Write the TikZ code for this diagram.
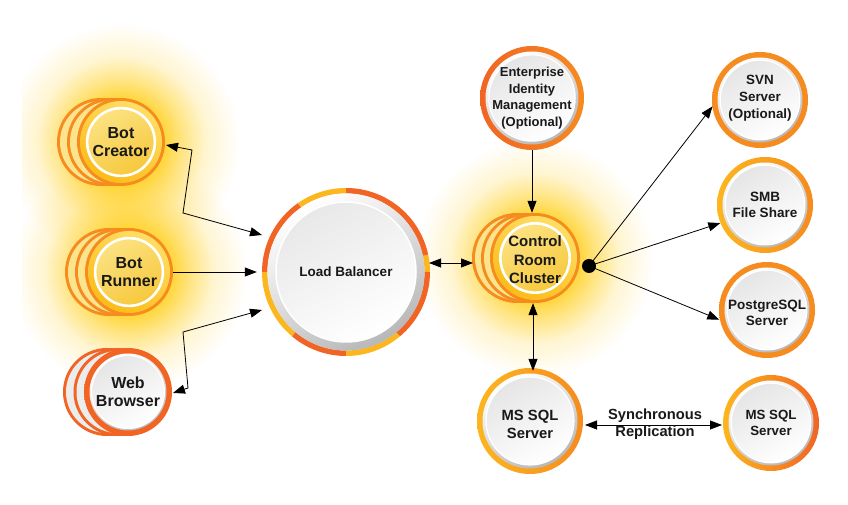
\documentclass[tikz,border=0pt]{standalone}
\usepackage{fontspec}
\setmainfont{Liberation Sans}
\usetikzlibrary{arrows.meta,fadings,calc}
\definecolor{ringor}{RGB}{246,139,31}
\definecolor{ringred}{RGB}{241,100,36}
\definecolor{ringyel}{RGB}{252,182,30}
\definecolor{glowyel}{RGB}{255,208,30}
\definecolor{fillyelA}{RGB}{255,222,100}
\definecolor{fillyelB}{RGB}{251,188,24}
\definecolor{innyelA}{RGB}{252,226,130}
\definecolor{innyelB}{RGB}{246,200,60}
\definecolor{paleyel}{RGB}{252,228,140}
\definecolor{palegray}{RGB}{236,236,236}
\pgfdeclareradialshading{glowshade}{\pgfpointorigin}{color(0bp)=(pgftransparent!0); color(9bp)=(pgftransparent!12); color(13bp)=(pgftransparent!45); color(18bp)=(pgftransparent!80); color(25bp)=(pgftransparent!100); color(50bp)=(pgftransparent!100)}
\pgfdeclarefading{glowfade}{\pgfuseshading{glowshade}}
\newcommand{\glowat}[3]{\fill[glowyel, path fading=glowfade] (#1,#2) circle[radius=#3pt];}
\newcommand{\backdisc}[5]{%
  \fill[#4] (#1,#2) circle[radius=#3pt];
  \fill[#5] (#1,#2) circle[radius=#3pt-3pt];}
\newcommand{\yfront}[3]{%
  \fill[ringor] (#1,#2) circle[radius=#3pt];
  \shade[top color=fillyelA, bottom color=fillyelB, shading angle=-30] (#1,#2) circle[radius=#3pt-3pt];
  \shade[top color=innyelA, bottom color=innyelB, shading angle=30] (#1,#2) circle[radius=0.77*#3pt];
  \draw[white, line width=2.6pt] (#1,#2) circle[radius=0.77*#3pt];}
\newcommand{\wfront}[5]{%
  \shade[left color=#4, right color=#5] (#1,#2) circle[radius=#3pt];
  \shade[top color=white, bottom color=black!28, shading angle=30] (#1,#2) circle[radius=#3pt-5.5pt];
  \shade[top color=black!10, bottom color=white, shading angle=30] (#1,#2) circle[radius=0.83*#3pt];
  \draw[white, line width=1.2pt] (#1,#2) circle[radius=0.83*#3pt];}
\tikzset{
  lbl/.style={circle, inner sep=0pt, align=center, text=black!90},
  conn/.style={line width=0.8pt, -{Triangle[length=12pt,width=9pt]}},
  conn2/.style={line width=0.8pt, {Triangle[length=12pt,width=9pt]}-{Triangle[length=12pt,width=9pt]}},
}
\begin{document}
\begin{tikzpicture}[x=1pt,y=1pt]
\useasboundingbox (0,0) rectangle (848,505);
\fill[white] (0,0) rectangle (848,505);
% glows
\begin{scope}
\clip (22,0) rectangle (848,505);
\glowat{121}{363}{118}
\glowat{129}{233}{118}
\glowat{535}{247}{118}
\end{scope}
% Bot Creator
\backdisc{101}{363}{44}{ringor}{paleyel}
\backdisc{111}{363}{44}{ringor}{paleyel}
\yfront{121}{363}{44}
\node[lbl, minimum size=88pt, font=\bfseries\fontsize{16}{18}\selectfont] (bc) at (121,363) {Bot\\Creator};
% Bot Runner
\backdisc{109}{233}{44}{ringor}{paleyel}
\backdisc{119}{233}{44}{ringor}{paleyel}
\yfront{129}{233}{44}
\node[lbl, minimum size=88pt, font=\bfseries\fontsize{16}{18}\selectfont] (br) at (129,233) {Bot\\Runner};
% Web Browser
\backdisc{107}{113}{44}{ringred}{palegray}
\backdisc{117.5}{113}{44}{ringred}{palegray}
\wfront{128}{113}{44}{ringred}{ringred}
\node[lbl, minimum size=88pt, font=\bfseries\fontsize{16}{18}\selectfont] (wb) at (128,113) {Web\\Browser};
% Load Balancer
\begin{scope}[shift={(346,233)}]
\foreach \a/\b/\c in {0/12/ringyel,12/90/ringred,90/125/ringyel,125/180/ringred,180/230/ringyel,230/270/ringred,270/310/ringyel,310/360/ringred}
  \draw[\c, line width=5.5pt] (\a:81.25pt) arc[start angle=\a, end angle=\b, radius=81.25pt];
\shade[top color=white, bottom color=black!28, shading angle=30] (0,0) circle[radius=78.6pt];
\shade[top color=black!9, bottom color=white, shading angle=30] (0,0) circle[radius=70pt];
\draw[white, line width=1.5pt] (0,0) circle[radius=70pt];
\end{scope}
\node[lbl, minimum size=168pt, font=\bfseries\fontsize{13.5}{16}\selectfont] (lb) at (346,233) {Load Balancer};
% Enterprise Identity Management
\wfront{532}{407}{52}{ringred}{ringor}
\node[lbl, minimum size=104pt, font=\bfseries\fontsize{13}{16.5}\selectfont] (eim) at (532,407) {Enterprise\\Identity\\Management\\(Optional)};
% Control Room Cluster
\backdisc{517}{247}{45}{ringor}{paleyel}
\backdisc{526}{247}{45}{ringor}{paleyel}
\yfront{535}{247}{45}
\node[lbl, minimum size=90pt, font=\bfseries\fontsize{15}{18.5}\selectfont] (crc) at (535,245) {Control\\Room\\Cluster};
% SVN
\wfront{760}{405}{48}{ringor}{ringor}
\node[lbl, minimum size=96pt, font=\bfseries\fontsize{13.4}{17}\selectfont] (svn) at (760,407) {SVN\\Server\\(Optional)};
% SMB
\wfront{765}{300}{48}{ringyel}{ringor}
\node[lbl, minimum size=96pt, font=\bfseries\fontsize{13.5}{16}\selectfont] (smb) at (765,300) {SMB\\File Share};
% PostgreSQL
\wfront{767}{195}{48}{ringor}{ringor}
\node[lbl, minimum size=96pt, font=\bfseries\fontsize{13.5}{16}\selectfont] (pg) at (767,192) {PostgreSQL\\Server};
% MS SQL left
\wfront{530}{84}{53}{ringyel}{ringor}
\node[lbl, minimum size=106pt, font=\bfseries\fontsize{14.8}{18}\selectfont] (msl) at (530,81) {MS SQL\\Server};
% MS SQL right
\wfront{771}{82}{48}{ringyel}{ringred}
\node[lbl, minimum size=96pt, font=\bfseries\fontsize{13.3}{16}\selectfont] (msr) at (771,82) {MS SQL\\Server};
% connectors
\draw[conn2] ($(bc.center)+(45,-3)$) -- (192,355) -- (183,292) -- ($(lb.center)+(-84,37)$);
\draw[conn] (br.east) -- ($(lb.west)+(-5,0)$);
\draw[conn2] ($(wb.center)+(45,-1)$) -- (188,117) -- (183,173) -- ($(lb.center)+(-84,-38)$);
\draw[conn2] ($(lb.center)+(83,9)$) -- ($(crc.center)+(-62,-3)$);
\draw[conn] (eim.south) -- ($(eim.south |- crc.north)+(0,2)$);
\draw[conn2] ($(crc.south)+(-2,2)$) -- ($(crc.south |- msl.north)+(-2,0)$);
\node[circle, fill=black, minimum size=14pt, inner sep=0pt] (dot) at (589,239) {};
\draw[conn] (dot.center) -- (svn.190);
\draw[conn] (dot.center) -- (smb.202);
\draw[conn] (dot.center) -- (pg.188);
\draw[conn2] ($(msl.center)+(55,-1)$) -- ($(msr.center)+(-49,-2)$);
\node[align=center, font=\bfseries\fontsize{14.7}{17}\selectfont, text=black!90] (sync) at (655,80.5) {Synchronous\\Replication};
\end{tikzpicture}
\end{document}
